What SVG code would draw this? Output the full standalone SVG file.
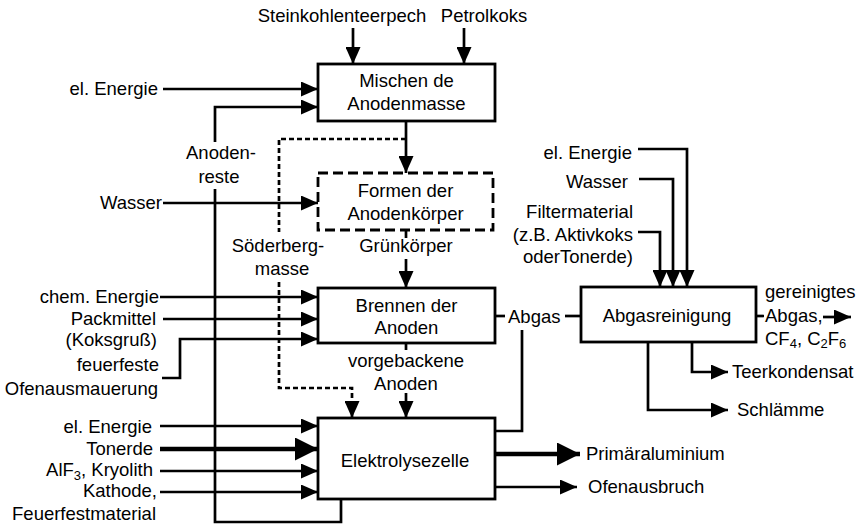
<svg xmlns="http://www.w3.org/2000/svg" width="860" height="525" viewBox="0 0 860 525">
  <defs>
    <style>
      text { font-family: "Liberation Sans", Arial, Helvetica, sans-serif; font-size: 18.5px; fill: #000; }
      .c { text-anchor: middle; }
      .r { text-anchor: end; }
      .box { fill: #fff; stroke: #000; stroke-width: 2.8; }
      .dbox { fill: #fff; stroke: #000; stroke-width: 2.8; stroke-dasharray: 10 5; }
      .ln { fill: none; stroke: #000; stroke-width: 2.7; }
      .thick { fill: none; stroke: #000; stroke-width: 4.6; }
      .dash { fill: none; stroke: #000; stroke-width: 2.7; stroke-dasharray: 5 3; }
      .sub { font-size: 13px; }
    </style>
    <marker id="arr" markerUnits="userSpaceOnUse" markerWidth="17" markerHeight="15" refX="17" refY="7.5" orient="auto">
      <path d="M0,0 L17,7.5 L0,15 z" fill="#000"/>
    </marker>
    <marker id="arrB" markerUnits="userSpaceOnUse" markerWidth="23" markerHeight="23" refX="23" refY="11.5" orient="auto">
      <path d="M0,0 L23,11.5 L0,23 z" fill="#000"/>
    </marker>
  </defs>

  <rect width="860" height="525" fill="#fff"/>

  <!-- connectors -->
  <g id="connectors">
    <!-- raw materials into mixing -->
    <path class="ln" d="M353,28 V64" marker-end="url(#arr)"/>
    <path class="ln" d="M464,28 V64" marker-end="url(#arr)"/>
    <path class="ln" d="M163,89 H318" marker-end="url(#arr)"/>
    <!-- anode butts recycled from the cell -->
    <path class="ln" d="M341,499 V522 H215 V189"/>
    <path class="ln" d="M215,142 V107 H318" marker-end="url(#arr)"/>
    <!-- mixing to forming -->
    <path class="ln" d="M406,121 V173" marker-end="url(#arr)"/>
    <!-- Söderberg paste bypass -->
    <path class="dash" d="M406,139 H279 V232"/>
    <path class="dash" d="M279,282 V388 H352 V406"/>
    <path class="ln" d="M352,404 V418" marker-end="url(#arr)"/>
    <path class="ln" d="M163,203 H318" marker-end="url(#arr)"/>
    <!-- forming to baking -->
    <path class="ln" d="M406,230 V238"/>
    <path class="ln" d="M406,259 V288" marker-end="url(#arr)"/>
    <path class="ln" d="M160,297 H318" marker-end="url(#arr)"/>
    <path class="ln" d="M163,319 H318" marker-end="url(#arr)"/>
    <path class="ln" d="M162,378 H180 V339 H318" marker-end="url(#arr)"/>
    <!-- baking to electrolysis -->
    <path class="ln" d="M406,343 V350"/>
    <path class="ln" d="M406,393 V418" marker-end="url(#arr)"/>
    <!-- cell inputs -->
    <path class="ln" d="M160,426 H318" marker-end="url(#arr)"/>
    <path class="thick" d="M160,449 H318" marker-end="url(#arrB)"/>
    <path class="ln" d="M160,471 H318" marker-end="url(#arr)"/>
    <path class="ln" d="M160,492 H318" marker-end="url(#arr)"/>
    <!-- cell outputs -->
    <path class="thick" d="M495,454 H580" marker-end="url(#arrB)"/>
    <path class="ln" d="M495,487 H577" marker-end="url(#arr)"/>
    <!-- off-gas -->
    <path class="ln" d="M495,316 H505"/>
    <path class="ln" d="M565,316 H581"/>
    <path class="ln" d="M522,330 V431 H495"/>
    <!-- gas cleaning inputs -->
    <path class="ln" d="M638,149 H687 V287" marker-end="url(#arr)"/>
    <path class="ln" d="M639,179 H673 V287" marker-end="url(#arr)"/>
    <path class="ln" d="M638,232 H660 V287" marker-end="url(#arr)"/>
    <!-- gas cleaning outputs -->
    <path class="ln" d="M756,316 H764"/>
    <path class="ln" d="M823,317 H851" marker-end="url(#arr)"/>
    <path class="ln" d="M692,342 V372 H728" marker-end="url(#arr)"/>
    <path class="ln" d="M648,342 V410 H728" marker-end="url(#arr)"/>
  </g>

  <!-- process steps -->
  <g id="mischen">
    <rect class="box" x="318" y="64" width="177" height="57"/>
    <text class="c" x="406.5" y="87">Mischen de</text>
    <text class="c" x="406.5" y="110">Anodenmasse</text>
  </g>
  <g id="formen">
    <rect class="dbox" x="318" y="173" width="175" height="57"/>
    <text class="c" x="405.5" y="197">Formen der</text>
    <text class="c" x="405.5" y="220">Anodenkörper</text>
  </g>
  <g id="brennen">
    <rect class="box" x="318" y="288" width="177" height="55"/>
    <text class="c" x="406.5" y="312">Brennen der</text>
    <text class="c" x="406.5" y="334">Anoden</text>
  </g>
  <g id="elektrolyse">
    <rect class="box" x="318" y="418" width="177" height="81"/>
    <text class="c" x="405" y="467">Elektrolysezelle</text>
  </g>
  <g id="abgasreinigung">
    <rect class="box" x="581" y="287" width="175" height="55"/>
    <text class="c" x="667" y="322">Abgasreinigung</text>
  </g>

  <!-- flow labels -->
  <g id="labels">
    <text class="c" x="342" y="22">Steinkohlenteerpech</text>
    <text class="c" x="484" y="22">Petrolkoks</text>
    <text class="r" x="158" y="95">el. Energie</text>
    <text class="c" x="221" y="159">Anoden-</text>
    <text class="c" x="219" y="183">reste</text>
    <text class="r" x="162" y="209">Wasser</text>
    <text class="c" x="278" y="252">Söderberg-</text>
    <text class="c" x="282" y="275">masse</text>
    <text class="c" x="406" y="252">Grünkörper</text>
    <text class="r" x="159" y="303">chem. Energie</text>
    <text class="r" x="156" y="325">Packmittel</text>
    <text class="r" x="157" y="346">(Koksgruß)</text>
    <text class="r" x="159" y="371">feuerfeste</text>
    <text class="r" x="158" y="395">Ofenausmauerung</text>
    <text class="c" x="406" y="367">vorgebackene</text>
    <text class="c" x="406" y="390">Anoden</text>
    <text class="r" x="152" y="433">el. Energie</text>
    <text class="r" x="153" y="455">Tonerde</text>
    <text class="r" x="153" y="476">AlF<tspan class="sub" dy="4">3</tspan><tspan dy="-4">, Kryolith</tspan></text>
    <text class="r" x="157" y="497">Kathode,</text>
    <text class="r" x="156" y="520">Feuerfestmaterial</text>
    <text x="508" y="323">Abgas</text>
    <text x="586" y="460">Primäraluminium</text>
    <text x="588" y="493">Ofenausbruch</text>
    <text class="r" x="632" y="159">el. Energie</text>
    <text class="r" x="628" y="188">Wasser</text>
    <text class="r" x="633" y="218">Filtermaterial</text>
    <text class="r" x="633" y="241">(z.B. Aktivkoks</text>
    <text class="r" x="633" y="263">oderTonerde)</text>
    <text x="765" y="298">gereinigtes</text>
    <text x="765" y="322">Abgas,</text>
    <text x="765" y="345">CF<tspan class="sub" dy="3">4</tspan><tspan dy="-3">, C</tspan><tspan class="sub" dy="3">2</tspan><tspan dy="-3">F</tspan><tspan class="sub" dy="3">6</tspan></text>
    <text x="732" y="378">Teerkondensat</text>
    <text x="737" y="416">Schlämme</text>
  </g>
</svg>
